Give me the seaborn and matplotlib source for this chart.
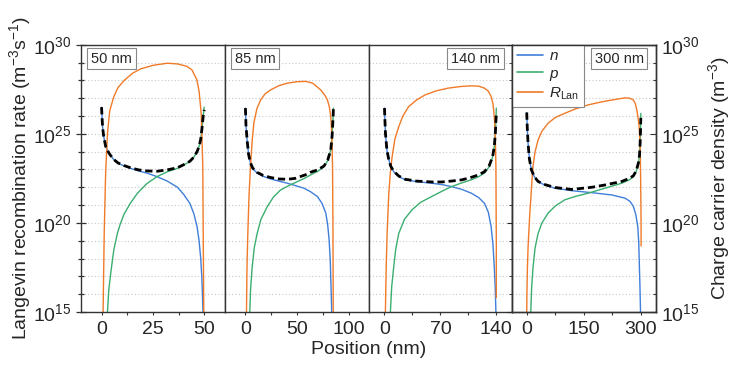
import numpy as np
import matplotlib
matplotlib.use("Agg")
import matplotlib.pyplot as plt
from matplotlib.lines import Line2D
from matplotlib.ticker import NullFormatter
import seaborn as sns

# ─── Data (stored as log10) ───────────────────────────────────────────────────

thickness_labels = ["50 nm", "85 nm", "140 nm", "300 nm"]

# 50 nm
x50_n = [0, 0.5, 1, 2, 3, 4, 6, 8, 11, 14, 18, 22, 27, 32, 37, 40, 43, 45, 46.5, 47.5, 48.3, 48.9, 49.4, 49.6]
n50 = [26.5, 25.4, 24.9, 24.3, 24.05, 23.85, 23.55, 23.35, 23.2, 23.07, 22.92, 22.8, 22.6, 22.35, 22.0, 21.6, 21.1, 20.5, 19.8, 19.0, 18.0, 16.8, 15.0, 14.5]
x50_p = [2.6, 2.9, 3.5, 4.5, 6, 7.7, 9, 11, 14, 17.5, 22, 27, 32, 37, 40, 43, 45, 46.5, 47.5, 48.3, 49, 49.5, 50]
p50 = [14.5, 15, 16.2, 17.2, 18.5, 19.4, 19.9, 20.5, 21.1, 21.67, 22.2, 22.6, 22.87, 23.07, 23.25, 23.45, 23.7, 24.0, 24.3, 24.7, 25.4, 26.0, 26.5]
x50_r = [0.7, 1.3, 2, 2.9, 4, 6, 8, 11, 15, 19, 25, 32, 37, 41.5, 44, 46.4, 47.5, 48.5, 49.3, 49.8]
r50 = [14.5, 19.4, 22.8, 25.05, 26.3, 27.1, 27.6, 28.0, 28.4, 28.65, 28.85, 28.97, 28.93, 28.8, 28.6, 28.05, 27.4, 26.2, 23.2, 14.5]
x50_t = [0, 0.5, 1, 2, 3, 4, 6, 8, 11, 14, 18, 22, 27, 32, 37, 40, 43, 45, 46.5, 47.5, 48.3, 49, 49.5, 50]
t50 = [26.5, 25.4, 24.9, 24.3, 24.05, 23.85, 23.56, 23.37, 23.22, 23.1, 22.98, 22.92, 22.9, 22.98, 23.1, 23.27, 23.46, 23.7, 24.0, 24.3, 24.7, 25.4, 26.0, 26.35]

# 85 nm
x85_n = [0, 0.5, 1.6, 3, 4.9, 7, 11.3, 17, 24.3, 32, 40.5, 48, 56.6, 63, 69.6, 74, 77.7, 79.5, 80.9, 82, 83.2, 83.6]
n85 = [26.45, 25.5, 24.66, 23.85, 23.35, 23.05, 22.8, 22.62, 22.47, 22.35, 22.23, 22.1, 21.95, 21.75, 21.48, 21.1, 20.55, 19.9, 19.05, 17.9, 15.5, 14.5]
x85_p = [3.9, 4.2, 5, 6.5, 8.5, 11.3, 15, 21, 27, 34, 42, 50.2, 57, 63.1, 70, 76, 79.5, 82.5, 83.8, 84.8, 85]
p85 = [14.5, 15, 16.3, 17.5, 18.6, 19.4, 20.2, 20.9, 21.45, 21.85, 22.1, 22.32, 22.5, 22.7, 22.9, 23.16, 23.5, 24.1, 24.9, 26.0, 26.45]
x85_r = [0.9, 1.5, 2.3, 3.5, 4.9, 6.5, 8.1, 11, 14.6, 19, 24.3, 32, 40.5, 50, 58.3, 65, 72.8, 77, 79.3, 81.2, 82.5, 83.5, 84.2, 84.6, 84.9]
r85 = [14.5, 17.5, 19.4, 21.6, 23.2, 24.6, 25.6, 26.4, 26.9, 27.25, 27.47, 27.7, 27.85, 27.93, 27.95, 27.85, 27.47, 27.15, 26.9, 26.5, 25.97, 25.0, 23.2, 20.0, 14.5]
x85_t = [0, 0.5, 1.6, 3, 4.9, 7, 11.3, 17, 24.3, 32, 40.5, 48, 53, 58, 63.1, 70, 76, 79.5, 82.5, 83.8, 84.8, 85]
t85 = [26.45, 25.5, 24.66, 23.86, 23.37, 23.08, 22.84, 22.67, 22.55, 22.47, 22.45, 22.5, 22.6, 22.7, 22.85, 22.98, 23.2, 23.52, 24.1, 24.9, 26.0, 26.4]

# 140 nm
x140_n = [0, 0.6, 1.2, 3, 5.4, 8, 11.5, 18, 26, 40, 59, 72, 83.9, 97, 108.7, 118, 125.2, 130, 133.5, 135.8, 137.5, 138.7, 139.5, 139.8]
n140 = [26.45, 25.7, 25.04, 24.1, 23.54, 23.15, 22.88, 22.6, 22.42, 22.32, 22.23, 22.15, 22.04, 21.88, 21.67, 21.42, 21.1, 20.6, 19.8, 18.8, 17.5, 16.3, 15.0, 14.5]
x140_p = [7.0, 7.4, 9, 11.5, 14, 17.8, 25, 34.3, 45, 59, 72, 83.9, 97, 108.7, 118, 125.2, 131, 135.4, 137.5, 138.8, 139.6, 140]
p140 = [14.5, 15, 16.4, 17.5, 18.5, 19.4, 20.2, 20.73, 21.15, 21.48, 21.78, 22.04, 22.25, 22.42, 22.6, 22.8, 23.15, 23.7, 24.3, 25.04, 25.8, 26.45]
x140_r = [1.0, 1.5, 2.3, 3.3, 5.4, 7.5, 9.5, 13, 17.8, 23, 30.2, 40, 50.8, 65, 79.7, 95, 108.7, 118, 125.2, 130, 133.5, 135.8, 137.5, 138.7, 139.5, 140, 140]
r140 = [14.5, 16, 17.8, 19.4, 21.67, 22.9, 23.7, 24.7, 25.4, 26.0, 26.53, 26.9, 27.19, 27.42, 27.57, 27.66, 27.7, 27.68, 27.57, 27.4, 27.1, 26.7, 25.97, 25.0, 23.2, 19.0, 15.8]
x140_t = [0, 0.6, 1.2, 3, 5.4, 8, 11.5, 18, 26, 40, 59, 72, 83.9, 97, 108.7, 118, 125.2, 131, 135.4, 137.5, 138.8, 139.6, 140]
t140 = [26.45, 25.7, 25.04, 24.1, 23.55, 23.17, 22.9, 22.63, 22.45, 22.35, 22.3, 22.3, 22.35, 22.42, 22.56, 22.7, 22.88, 23.2, 23.72, 24.3, 25.04, 25.8, 26.1]

# 300 nm
x300_n = [0, 1.5, 3.5, 7, 12.3, 20, 29.8, 45, 73.9, 117.9, 170.6, 223.5, 258.6, 272, 280.5, 287, 292, 294.5, 296.3, 298, 299.2, 299.6]
n300 = [26.2, 25.3, 24.48, 23.6, 22.98, 22.6, 22.32, 22.15, 21.95, 21.81, 21.7, 21.57, 21.39, 21.2, 20.92, 20.45, 19.8, 18.9, 17.5, 16.2, 15.0, 14.5]
x300_p = [9.5, 10.6, 13, 16.6, 22, 29.8, 40, 56.2, 75, 100.3, 130, 161.7, 205.8, 249.9, 270, 280.5, 288, 293.7, 296.5, 298.2, 299.3, 300]
p300 = [14.5, 15, 16.4, 17.5, 18.6, 19.4, 20.0, 20.55, 20.95, 21.3, 21.5, 21.67, 21.95, 22.23, 22.42, 22.6, 22.9, 23.35, 23.8, 24.48, 25.3, 26.15]
x300_r = [-0.3, 0.5, 1.8, 3.5, 5.3, 8, 10.6, 13.5, 16.6, 22, 29.8, 40, 56.2, 75, 100.3, 130, 161.7, 195, 223.5, 245, 258.6, 270, 280.5, 285.5, 289.4, 292.5, 295.5, 297.5, 298.5, 299.5, 300.5, 300.8]
r300 = [14.5, 16, 17.5, 18.6, 19.4, 20.5, 21.3, 22.3, 23.2, 24.0, 24.66, 25.15, 25.6, 25.92, 26.16, 26.42, 26.63, 26.79, 26.9, 26.98, 27.02, 27.01, 26.9, 26.7, 26.35, 25.95, 25.4, 24.6, 24.1, 22.5, 20.5, 18.7]
x300_t = [0, 1.5, 3.5, 7, 12.3, 20, 29.8, 45, 73.9, 117.9, 170.6, 205.8, 249.9, 270, 280.5, 288, 293.7, 296.5, 298.2, 299.3, 300]
t300 = [26.2, 25.3, 24.48, 23.6, 22.98, 22.6, 22.33, 22.17, 21.99, 21.88, 22.0, 22.13, 22.33, 22.5, 22.65, 22.93, 23.37, 23.8, 24.48, 25.3, 25.9]

x_limits = [(-10, 60), (-20, 119), (-20, 160), (-38, 340)]
x_major = [[0, 25, 50], [0, 50, 100], [0, 70, 140], [0, 150, 300]]
x_minor = [[12.5, 37.5], [25, 75], [35, 105], [75, 225]]

# ─── Style ────────────────────────────────────────────────────────────────────

sns.set_style("ticks")
plt.rcParams["font.family"] = ["Liberation Sans", "DejaVu Sans"]
plt.rcParams["mathtext.fontset"] = "custom"
plt.rcParams["mathtext.rm"] = "Liberation Sans"
plt.rcParams["mathtext.it"] = "Liberation Sans:italic"
plt.rcParams["mathtext.bf"] = "Liberation Sans:bold"

C_N = "#3f7fd9"
C_P = "#3aae6e"
C_R = "#f07a28"
SPINE = "#333333"
FS = 14

fig, axes = plt.subplots(1, 4, figsize=(7.33, 3.74), dpi=100, sharey=True)
fig.subplots_adjust(left=0.1105, right=0.895, top=0.88, bottom=0.166, wspace=0)

panels = [
    (x50_n, n50, x50_p, p50, x50_r, r50, x50_t, t50),
    (x85_n, n85, x85_p, p85, x85_r, r85, x85_t, t85),
    (x140_n, n140, x140_p, p140, x140_r, r140, x140_t, t140),
    (x300_n, n300, x300_p, p300, x300_r, r300, x300_t, t300),
]

decades_major = [15, 20, 25, 30]
decades_minor = [k for k in range(16, 30) if k % 5 != 0]


def set_log_ticks(ax):
    ax.set_yscale("log")
    ax.set_ylim(1e15, 1e30)
    ax.set_yticks([10.0 ** k for k in decades_major])
    ax.set_yticks([10.0 ** k for k in decades_minor], minor=True)
    ax.set_yticklabels([f"$10^{{{k}}}$" for k in decades_major], fontsize=FS)
    ax.yaxis.set_minor_formatter(NullFormatter())


for i, (ax, data) in enumerate(zip(axes, panels)):
    xn, yn, xp, yp, xr, yr, xt, yt = data
    set_log_ticks(ax)
    ax.set_xlim(*x_limits[i])

    ax.grid(axis="y", which="both", color="#c8c8c8", linestyle=(0, (1, 2)), linewidth=0.8)
    ax.grid(axis="x", visible=False)

    sns.lineplot(x=xn, y=10 ** np.array(yn), ax=ax, color=C_N, lw=1.0, sort=False, estimator=None)
    sns.lineplot(x=xp, y=10 ** np.array(yp), ax=ax, color=C_P, lw=1.0, sort=False, estimator=None)
    sns.lineplot(x=xr, y=10 ** np.array(yr), ax=ax, color=C_R, lw=1.0, sort=False, estimator=None)
    sns.lineplot(x=xt, y=10 ** np.array(yt), ax=ax, color="black", lw=2.0, sort=False,
                 estimator=None, dashes=False)
    ax.lines[-1].set_dashes((2.6, 1.4))

    ax.set_xticks(x_major[i])
    ax.set_xticks(x_minor[i], minor=True)
    ax.set_xticklabels([str(v) for v in x_major[i]], fontsize=FS)
    ax.tick_params(axis="x", which="both", direction="out", length=2.5, width=0.8, color=SPINE, pad=4)

    if i == 0:
        ax.tick_params(axis="y", which="major", direction="inout", length=7, width=0.9, color=SPINE)
        ax.tick_params(axis="y", which="minor", direction="inout", length=5, width=0.9, color=SPINE)
    else:
        ax.tick_params(axis="y", which="both", left=False, labelleft=False)

    for s in ax.spines.values():
        s.set_visible(True)
        s.set_color(SPINE)
        s.set_linewidth(1.0)
    ax.set_xlabel("")
    ax.set_ylabel("")

    # thickness tag
    lbl = thickness_labels[i]
    box = dict(boxstyle="square,pad=0.25", fc="white", ec="#888888", lw=0.8)
    if i < 2:
        ax.text(0.07, 0.975, lbl, transform=ax.transAxes, ha="left", va="top", fontsize=10.5, bbox=box)
    else:
        ax.text(0.915, 0.975, lbl, transform=ax.transAxes, ha="right", va="top", fontsize=10.5, bbox=box)

# right-hand axis (charge carrier density)
axr = axes[3].twinx()
set_log_ticks(axr)
axr.tick_params(axis="y", which="major", direction="in", length=4, width=0.8, color=SPINE)
axr.tick_params(axis="y", which="minor", direction="in", length=2.5, width=0.8, color=SPINE)
axr.grid(False)
for s in axr.spines.values():
    s.set_color(SPINE)
    s.set_linewidth(1.0)
axr.set_ylabel("Charge carrier density (m$^{-3}$)", fontsize=FS, labelpad=5)

axes[0].set_ylabel("Langevin recombination rate (m$^{-3}$s$^{-1}$)", fontsize=FS, labelpad=0)
fig.text(0.503, 0.065, "Position (nm)", ha="center", va="center", fontsize=FS)

handles = [
    Line2D([], [], color=C_N, lw=1.2),
    Line2D([], [], color=C_P, lw=1.2),
    Line2D([], [], color=C_R, lw=1.2),
]
for ax in axes:
    if ax.get_legend() is not None:
        ax.get_legend().remove()
leg = axes[3].legend(handles, ["$n$", "$p$", "$R_{\\mathrm{Lan}}$"], loc="upper left",
                     bbox_to_anchor=(0.0, 1.0), borderaxespad=0.0, fontsize=11,
                     frameon=True, fancybox=False, edgecolor="#888888", framealpha=1,
                     handlelength=1.7, handletextpad=0.4, labelspacing=0.2, borderpad=0.3)
leg.get_frame().set_linewidth(0.8)

fig.savefig("out.png", dpi=100)
